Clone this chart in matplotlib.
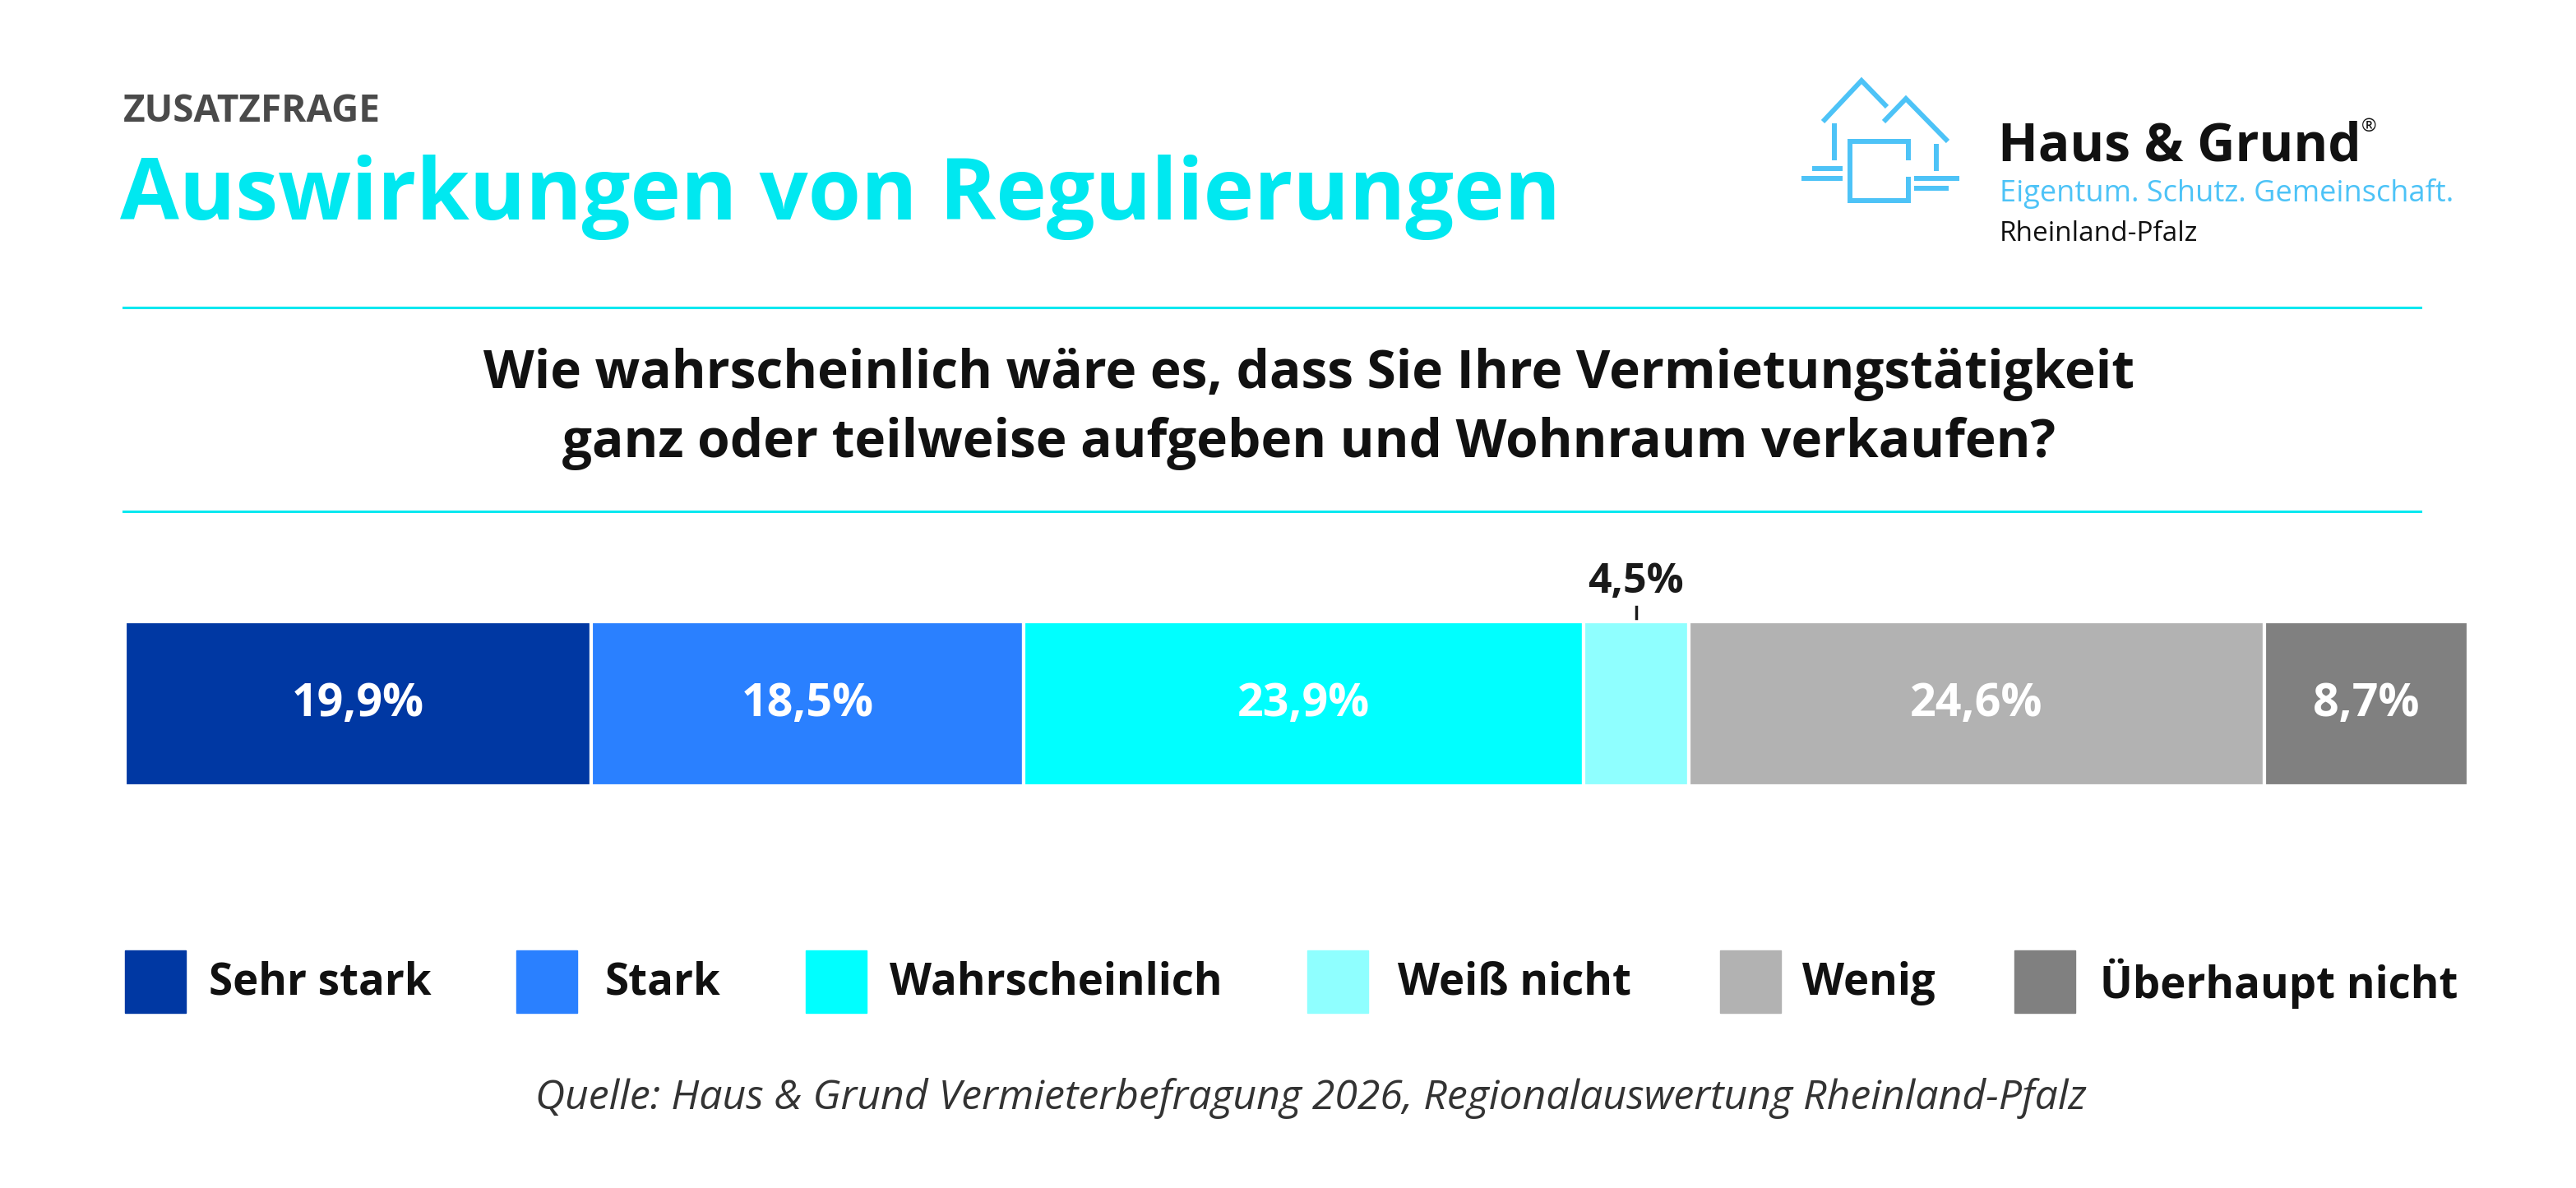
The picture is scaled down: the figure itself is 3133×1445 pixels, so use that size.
import numpy as np
import matplotlib.pyplot as plt

categories = ["Sehr stark", "Stark", "Wahrscheinlich", "Weiß nicht", "Wenig", "Überhaupt nicht"]
values = [19.9, 18.5, 23.9, 4.5, 24.6, 8.7]
colors = ["#0038A3", "#2A80FF", "#00FFFF", "#8FFFFF", "#B2B2B2", "#808080"]
inside = [True, True, True, False, True, True]

W, H = 3133, 1445
plt.rcParams['font.family'] = ['Open Sans', 'DejaVu Sans']
fig = plt.figure(figsize=(W / 100, H / 100), dpi=100)

# overlay in pixel coordinates (origin top left)
ov = fig.add_axes([0, 0, 1, 1])
ov.set_xlim(0, W)
ov.set_ylim(H, 0)
ov.axis("off")

cyan = "#00E8F0"
ov.text(150, 136, "ZUSATZFRAGE", fontsize=33, fontweight="bold", color="#4a4a4a", va="center")
ov.text(146, 240, "Auswirkungen von Regulierungen", fontsize=75, fontweight="bold", color=cyan, va="center")
for y in (374, 622):
    ov.plot([150, 2944], [y, y], color=cyan, lw=2.2)
ov.text(1592, 456, "Wie wahrscheinlich wäre es, dass Sie Ihre Vermietungstätigkeit", fontsize=46,
        fontweight="bold", color="#111111", ha="center", va="center")
ov.text(1592, 540, "ganz oder teilweise aufgeben und Wohnraum verkaufen?", fontsize=46,
        fontweight="bold", color="#111111", ha="center", va="center")

# logo
lc = "#4DC3F7"
lw = 4.3
segs = [
    [(2217, 148), (2264, 98), (2295, 130)],
    [(2291, 148), (2318, 120), (2369, 172)],
    [(2231, 150), (2231, 195)],
    [(2355, 175), (2355, 208)],
    [(2321, 195), (2321, 172), (2250, 172), (2250, 244), (2321, 244), (2321, 215)],
    [(2204, 205), (2241, 205)],
    [(2191, 217), (2241, 217)],
    [(2328, 217), (2383, 217)],
    [(2328, 229), (2370, 229)],
]
for s in segs:
    xs, ys = zip(*s)
    ov.plot(xs, ys, color=lc, lw=lw, solid_capstyle="butt", solid_joinstyle="miter")
ov.text(2430, 195, "Haus & Grund", fontsize=46, fontweight="bold", color="#111111", va="baseline")
ov.text(2872, 160, "®", fontsize=16, color="#111111", va="baseline")
ov.text(2432, 245, "Eigentum. Schutz. Gemeinschaft.", fontsize=26, color=lc, va="baseline")
ov.text(2432, 293, "Rheinland-Pfalz", fontsize=24, color="#111111", va="baseline")

# stacked bar
ax = fig.add_axes([152 / W, 1 - 956 / H, (3002 - 152) / W, 200 / H])
total = sum(values)
lefts = np.concatenate([[0], np.cumsum(values)[:-1]])
ax.barh([0], values, left=lefts, color=colors, height=1.0, edgecolor="white", linewidth=3)
ax.set_xlim(0, total)
ax.set_ylim(-0.5, 0.5)
ax.axis("off")
for l, v, ins in zip(lefts, values, inside):
    label = f"{v:.1f}%".replace(".", ",")
    c = l + v / 2
    if ins:
        ax.text(c, 0, label, ha="center", va="center", fontsize=40, fontweight="bold", color="white")
    else:
        ax.text(c, 0.74, label, ha="center", va="center", fontsize=36, fontweight="bold", color="#1a1a1a")
        ax.plot([c, c], [0.52, 0.59], color="#1a1a1a", lw=2.5, clip_on=False)

# legend
sq_x = [152, 628, 980, 1590, 2092, 2450]
tx_x = [254, 736, 1082, 1700, 2192, 2554]
for name, col, sx, tx in zip(categories, colors, sq_x, tx_x):
    ov.add_patch(plt.Rectangle((sx, 1156), 74, 76, color=col))
    ov.text(tx, 1196, name, fontsize=38, fontweight="bold", color="#111111", va="center")

ov.text(1594, 1336, "Quelle: Haus & Grund Vermieterbefragung 2026, Regionalauswertung Rheinland-Pfalz",
        fontsize=36, style="italic", color="#333333", ha="center", va="center")

fig.savefig("out.png", dpi=100)
